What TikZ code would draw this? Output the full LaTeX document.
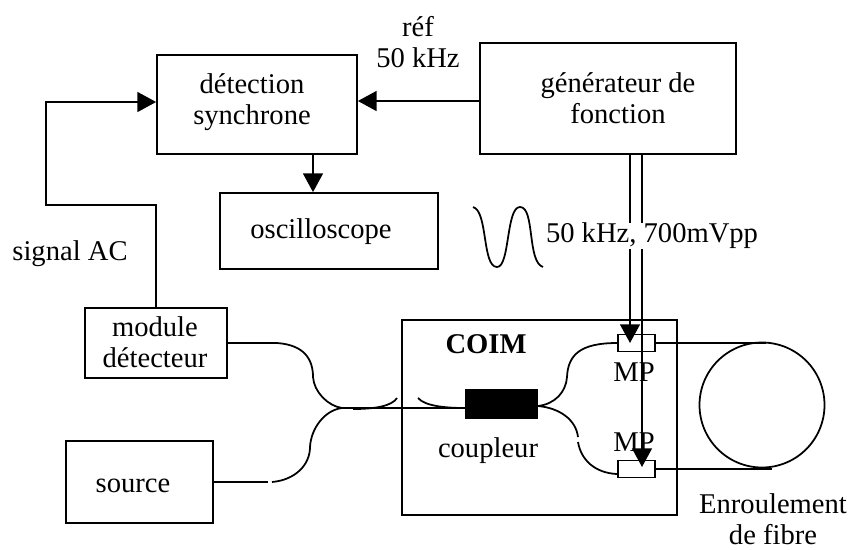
\documentclass[tikz,border=0pt]{standalone}
\usepackage{fontspec}
\setmainfont{Liberation Serif}
\usetikzlibrary{arrows.meta,calc}
\tikzset{
  x=0.03cm, y=-0.03cm,
  blocbox/.style={draw, line width=1.5pt, inner sep=0pt},
  lab/.style={font=\fontsize{24.4}{26}\selectfont, align=center, inner sep=0pt},
  flow/.style={-{Triangle[length=16pt,width=17pt]}, line width=1.5pt},
  fibre/.style={line width=1.5pt},
}

\begin{document}
\begin{tikzpicture}
  \useasboundingbox (0,0) rectangle (853,549);
  % instrument boxes (top)
  \node[blocbox, minimum width=6cm, minimum height=2.97cm] (detsync) at (257,104.5) {};
  \node[lab] (detsynclab) at (252,102) {détection\\synchrone};
  \node[blocbox, minimum width=7.68cm, minimum height=3.33cm] (gen) at (608,98.5) {};
  \node[lab] (genlab) at (618,98) {générateur de\\fonction};
  \node[blocbox, minimum width=6.54cm, minimum height=2.28cm] (oscillo) at (329,231) {};
  \node[lab] (oscillolab) at (321,232) {oscilloscope};

  % left boxes
  \node[blocbox, minimum width=4.26cm, minimum height=2.1cm] (module) at (156,343) {};
  \node[lab] (modulelab) at (155,342) {module\\détecteur};
  \node[blocbox, minimum width=4.41cm, minimum height=2.46cm] (source) at (139.5,482) {};
  \node[lab] (sourcelab) at (133,486) {source};

  % COIM box with coupler and modulators
  \node[blocbox, minimum width=8.25cm, minimum height=5.85cm] (coim) at (539.5,417.5) {};
  \node[lab, font=\bfseries\fontsize{24.4}{26}\selectfont] (coimlab) at (486,344) {COIM};
  \node[fill=black, minimum width=2.19cm, minimum height=0.9cm, inner sep=0pt] (coupler) at (501.5,404) {};
  \node[lab] (couplab) at (488,451) {coupleur};
  \node[blocbox, minimum width=1.11cm, minimum height=0.51cm] (mptop) at (636.5,343) {};
  \node[blocbox, minimum width=1.11cm, minimum height=0.51cm] (mpbot) at (636.5,469) {};
  \node[lab] (mptoplab) at (634,372) {MP};
  \node[lab] (mpbotlab) at (634,442) {MP};

  % fibre coil
  \node[draw, circle, line width=1.5pt, minimum size=3.75cm, inner sep=0pt] (coil) at (762,405) {};
  \node[lab] (coillab) at (773,519) {Enroulement\\de fibre};

  % signal connections
  \coordinate (sigup) at (46,205);
  \coordinate (sigin) at (detsync.west |- 0,102);
  \coordinate (refin) at (detsync.east |- 0,101);
  \draw[flow] (module.north) |- (sigup) |- (sigin);
  \draw[flow] (gen.west |- refin) -- (refin);
  \draw[flow] (313,154) -- (oscillo.north -| 313,0);
  \draw[flow] (gen.south -| 630,0) -- (630,343);
  \draw[flow] (gen.south -| 642,0) -- (642,467);

  \node[lab] (reflab) at (418,42) {réf\\50 kHz};
  \node[lab] (siglab) at (70,254) {signal AC};
  \node[lab, fill=white] (freqlab) at (652,236) {50 kHz, 700mVpp};

  % sine sketch
  \draw[fibre] (473,207) .. controls (488,211) and (482,267) .. (497,267)
     .. controls (510,267) and (506,207) .. (520,207)
     .. controls (535,207) and (527,262) .. (543,267);

  % fibres
  \coordinate (join) at (342,408);
  \draw[fibre] (module.east) -- (277,343) .. controls (305,345) and (313,360) .. (313,377)
     .. controls (314,392) and (328,406) .. (join);
  \draw[fibre] (source.east) -- (268,482);
  \draw[fibre] (272,482) .. controls (295,480) and (310,465) .. (310,447)
     .. controls (311,428) and (325,410) .. (join);
  \draw[fibre] (join) -- (coupler.west |- join);
  \draw[fibre] (353,409) .. controls (375,409) and (392,406) .. (397,398);
  \draw[fibre] (418,398) .. controls (425,406) and (445,408) .. (465,408);
  \draw[fibre] (538,406) .. controls (555,404) and (566,392) .. (567,377)
     .. controls (568,355) and (580,343) .. (mptop.west);
  \draw[fibre] (538,406) .. controls (560,408) and (576,420) .. (578,437);
  \draw[fibre] (578,442) .. controls (581,460) and (595,473) .. (617,474);
  \draw[fibre] (mptop.east) -- (766,343);
  \draw[fibre] (mpbot.east) -- (772,469);
\end{tikzpicture}
\end{document}
